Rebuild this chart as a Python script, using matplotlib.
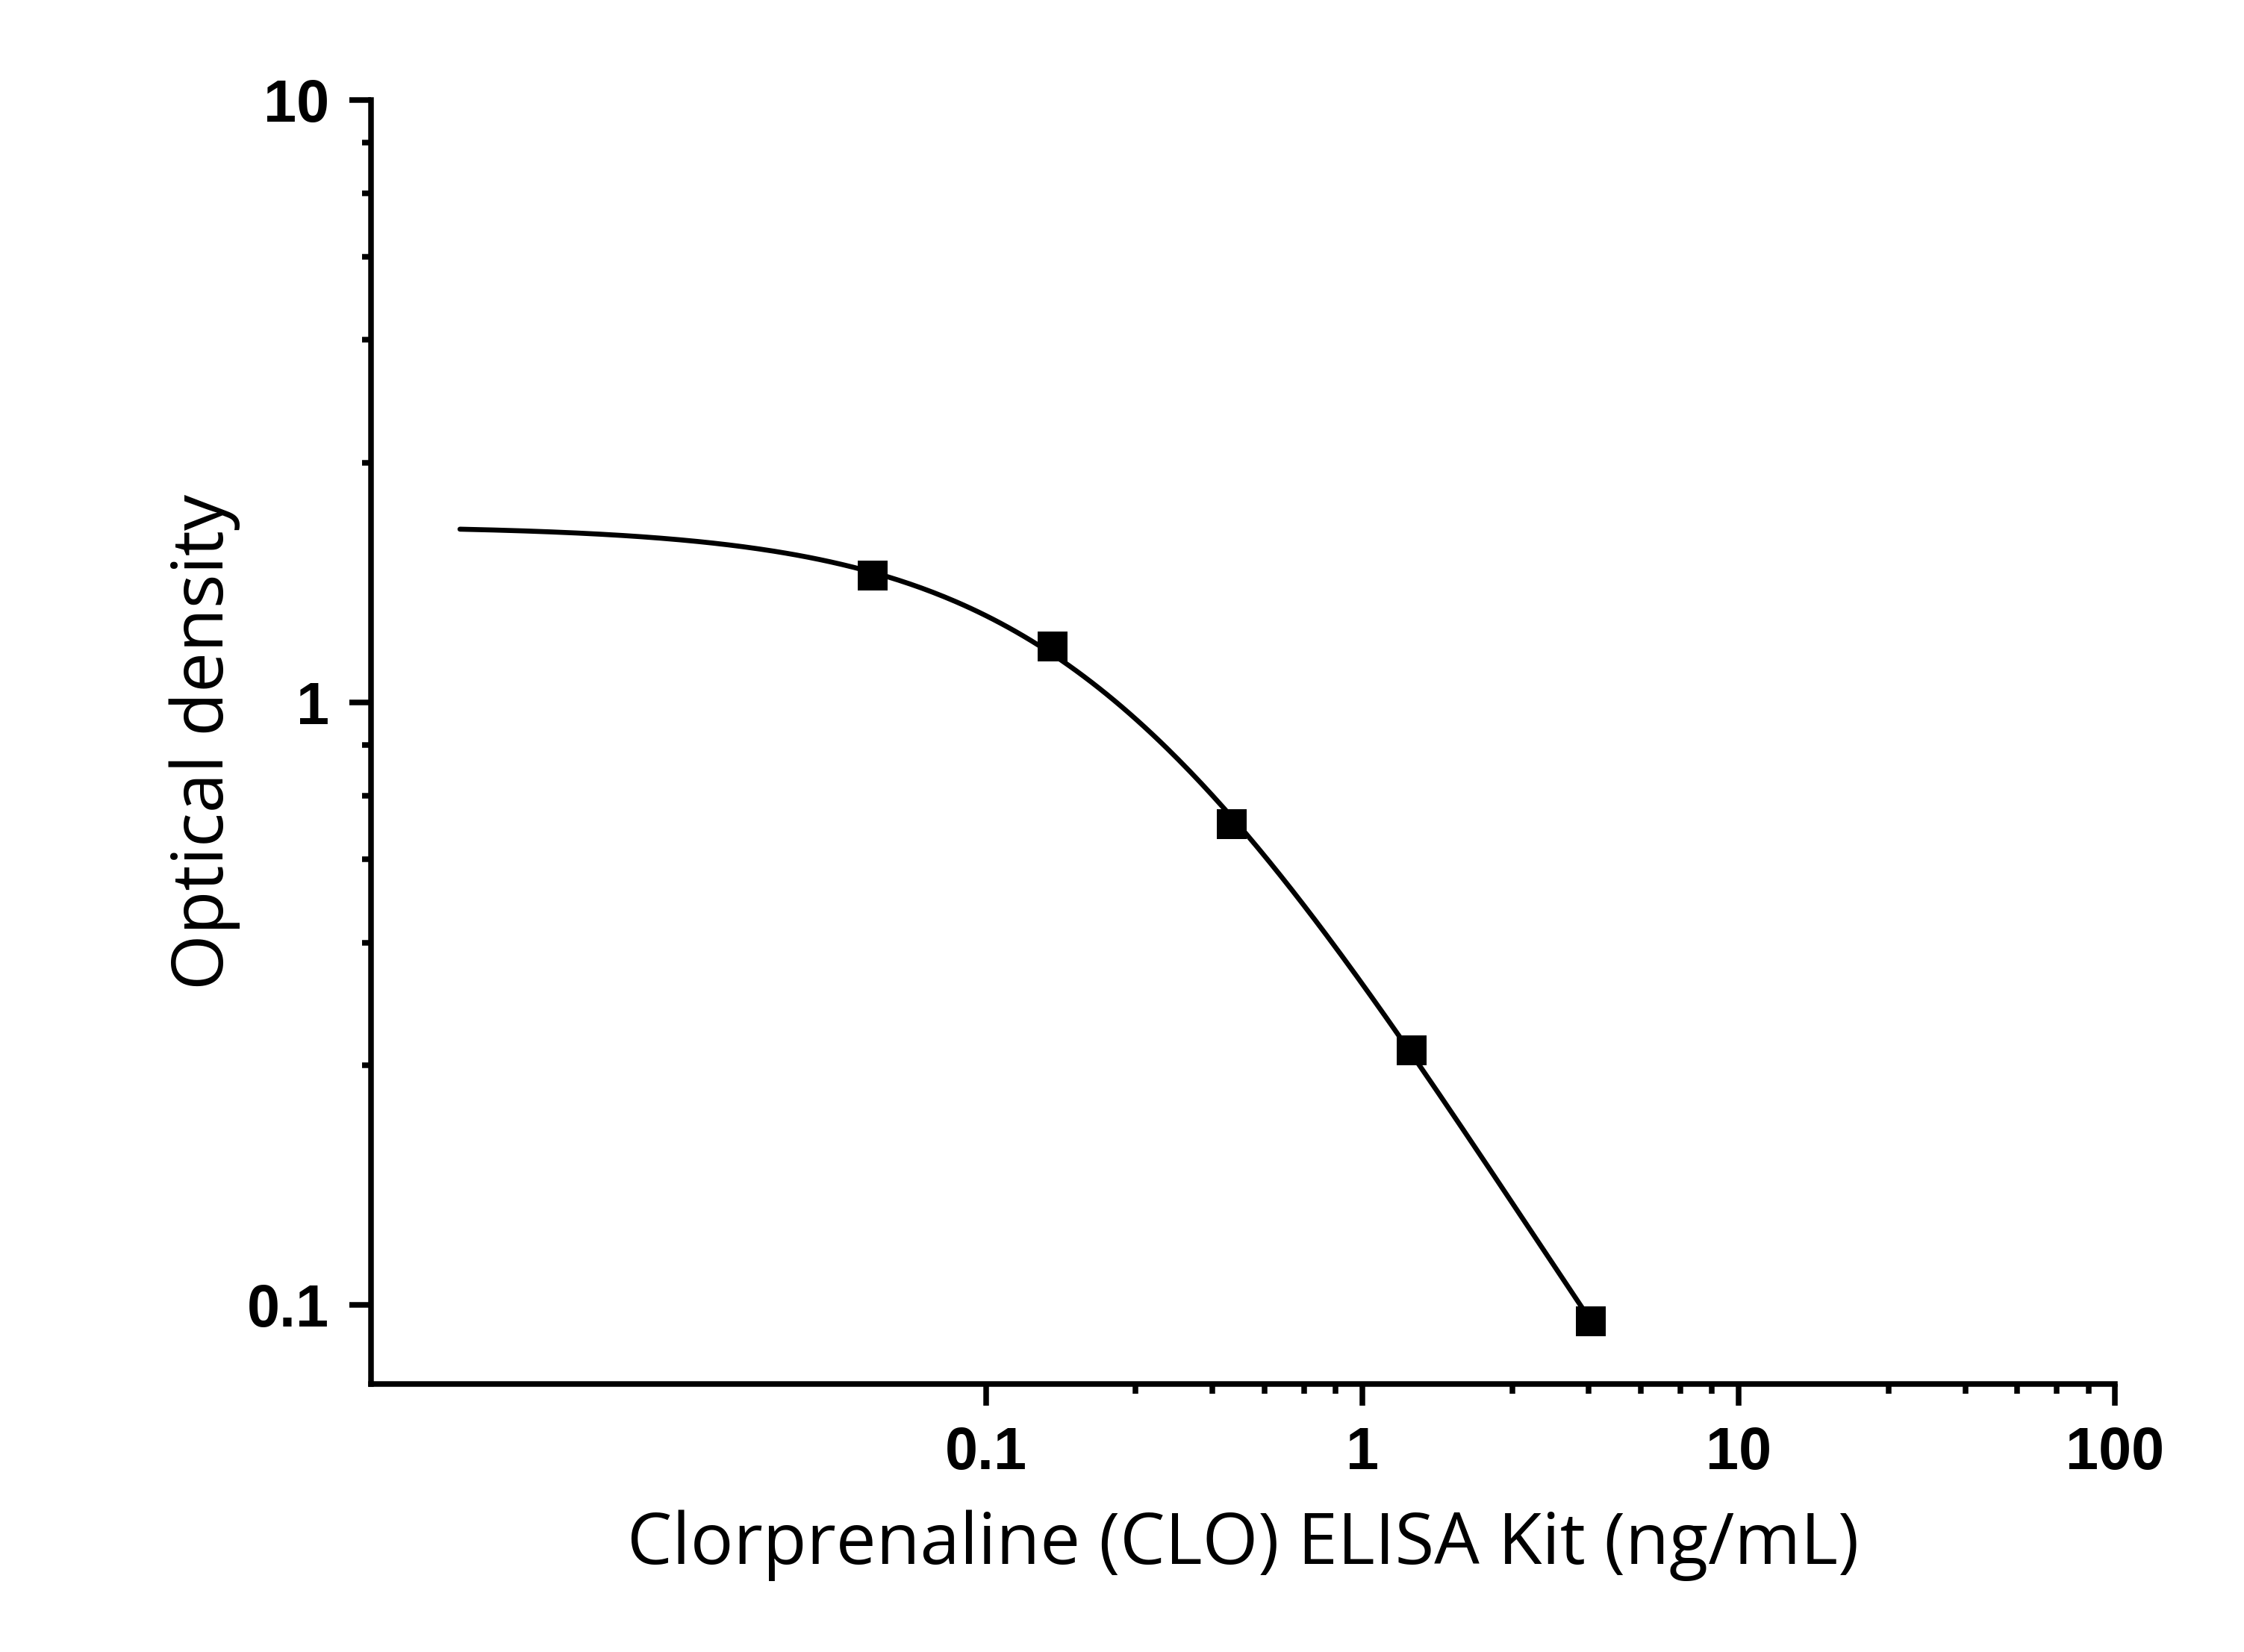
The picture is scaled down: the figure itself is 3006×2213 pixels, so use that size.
import numpy as np
import matplotlib
matplotlib.use("Agg")
import matplotlib.pyplot as plt
from matplotlib.ticker import FixedLocator, NullFormatter, FixedFormatter

# ---------------------------------------
# Data
# ---------------------------------------

conc = [0.05, 0.15, 0.45, 1.35, 4.05]
od = [1.625, 1.239, 0.628, 0.265, 0.094]

curve_x_start = 0.004
curve_x_end = 4.05

x_major = [0.1, 1, 10, 100]
x_major_labels = ["0.1", "1", "10", "100"]
y_major = [0.1, 1, 10]
y_major_labels = ["0.1", "1", "10"]

# Origin style minor ticks inside each decade
minor_steps = [2.5, 4, 5.5, 7, 8.5]
x_minor_decades = [0.1, 1, 10]
y_minor_decades = [0.1, 1]

x_label = "Clorprenaline (CLO) ELISA Kit (ng/mL)"
y_label = "Optical density"

# ---------------------------------------
# Four parameter logistic fit (log OD residuals)
# ---------------------------------------

def four_pl(x, a1, a2, log_x0, p):
    return a2 + (a1 - a2) / (1 + (x / 10 ** log_x0) ** p)


def fit_4pl(x, y, start):
    params = np.array(start, dtype=float)
    lam = 1e-3

    def resid(pr):
        model = np.clip(four_pl(x, *pr), 1e-6, None)
        return np.log10(model) - np.log10(y)

    for _ in range(800):
        r = resid(params)
        J = np.zeros((len(x), len(params)))
        for i in range(len(params)):
            step = np.zeros_like(params)
            step[i] = 1e-6
            J[:, i] = (resid(params + step) - r) / 1e-6
        A = J.T @ J
        g = J.T @ r
        delta = np.linalg.solve(A + lam * np.diag(np.diag(A) + 1e-12), -g)
        new = params + delta
        if np.sum(resid(new) ** 2) < np.sum(r ** 2):
            params = new
            lam *= 0.5
        else:
            lam *= 4
    return params


fit_params = fit_4pl(np.array(conc), np.array(od), [2.1, 0.0, np.log10(0.25), 1.0])
print("fit:", fit_params)

x_fit = np.logspace(np.log10(curve_x_start), np.log10(curve_x_end), 300)
y_fit = four_pl(x_fit, *fit_params)

# ---------------------------------------
# Plot
# ---------------------------------------

plt.rcParams["font.family"] = ["Open Sans", "DejaVu Sans"]

fig = plt.figure(figsize=(3006 / 300, 2213 / 300), dpi=300)
ax = fig.add_axes([0.1653, 0.1622, 0.9425 - 0.1653, 0.9394 - 0.1622])

ax.plot(x_fit, y_fit, color="black", linewidth=1.6, solid_capstyle="round")
ax.plot(conc, od, linestyle="none", marker="s", markersize=9.4,
        markerfacecolor="black", markeredgewidth=0, color="black")

ax.set_xscale("log")
ax.set_yscale("log")
ax.set_xlim(0.00232, 100)
ax.set_ylim(0.074, 10)

for side in ["top", "right"]:
    ax.spines[side].set_visible(False)
for side in ["left", "bottom"]:
    ax.spines[side].set_linewidth(1.8)

x_minor = [d * s for d in x_minor_decades for s in minor_steps]
y_minor = [d * s for d in y_minor_decades for s in minor_steps]

ax.xaxis.set_major_locator(FixedLocator(x_major))
ax.xaxis.set_major_formatter(FixedFormatter(x_major_labels))
ax.xaxis.set_minor_locator(FixedLocator(x_minor))
ax.xaxis.set_minor_formatter(NullFormatter())

ax.yaxis.set_major_locator(FixedLocator(y_major))
ax.yaxis.set_major_formatter(FixedFormatter(y_major_labels))
ax.yaxis.set_minor_locator(FixedLocator(y_minor))
ax.yaxis.set_minor_formatter(NullFormatter())

ax.tick_params(which="major", direction="out", length=7, width=1.8, pad=6.5,
               labelsize=19, labelfontfamily="Liberation Sans")
ax.tick_params(which="minor", direction="out", length=3, width=1.8)

for lab in ax.get_xticklabels() + ax.get_yticklabels():
    lab.set_fontweight("bold")

ax.set_xlabel(x_label, fontsize=23, labelpad=9)
ax.set_ylabel(y_label, fontsize=23, labelpad=2)

fig.savefig("out.png", dpi=300, facecolor="white")
